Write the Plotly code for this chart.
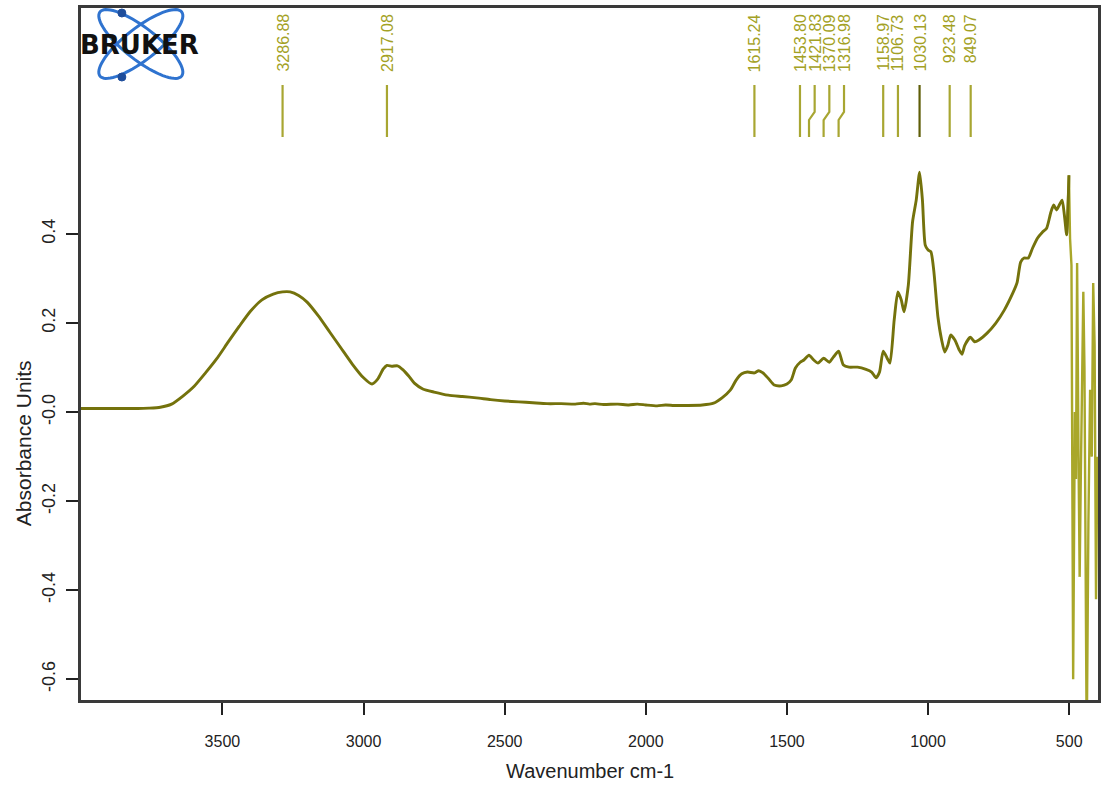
import numpy as np
import plotly.graph_objects as go

# ---------------- data ----------------
wavenumber = [
    4001, 3950, 3900, 3850, 3800, 3760, 3720, 3680, 3640, 3600, 3560, 3520, 3480, 3440,
    3400, 3360, 3320, 3287, 3260, 3230, 3200, 3160, 3120, 3080, 3040, 3000, 2970, 2950,
    2930, 2917, 2900, 2880, 2860, 2840, 2820, 2790, 2750, 2700, 2650, 2600, 2550, 2500,
    2450, 2400, 2350, 2300, 2250, 2220, 2200, 2180, 2150, 2100, 2060, 2030, 2000, 1960,
    1930, 1900, 1850, 1800, 1760, 1730, 1700, 1680, 1660, 1640, 1615, 1600, 1585, 1565,
    1545, 1520, 1500, 1485, 1470, 1453, 1440, 1422, 1405, 1390, 1370, 1350, 1335, 1317,
    1300, 1280, 1250, 1220, 1200, 1184, 1172, 1159, 1145, 1135, 1120, 1107, 1095, 1085,
    1070, 1055, 1042, 1030, 1020, 1010, 1000, 990, 980, 965, 952, 941, 930, 920, 905,
    890, 880, 870, 850, 835, 820, 790, 760, 730, 700, 685, 672, 660, 645, 630, 612, 595,
    580, 565, 555, 545, 535, 525, 517, 509, 501, 497, 492, 486, 480, 476, 472, 467, 463,
    459, 455, 450, 446, 442, 438, 432, 426, 420, 415, 410, 405, 400,
]
absorbance = [
    0.008, 0.008, 0.008, 0.008, 0.008, 0.009, 0.011, 0.018, 0.036, 0.058, 0.088, 0.120, 0.157, 0.193,
    0.227, 0.252, 0.265, 0.270, 0.270, 0.262, 0.247, 0.216, 0.180, 0.144, 0.108, 0.077, 0.063, 0.074,
    0.097, 0.105, 0.103, 0.104, 0.095, 0.081, 0.065, 0.052, 0.045, 0.038, 0.035, 0.032, 0.028, 0.025,
    0.023, 0.021, 0.019, 0.019, 0.018, 0.020, 0.018, 0.019, 0.017, 0.018, 0.016, 0.018, 0.016, 0.014,
    0.016, 0.015, 0.015, 0.016, 0.020, 0.032, 0.050, 0.072, 0.086, 0.090, 0.088, 0.093, 0.088, 0.075,
    0.061, 0.059, 0.063, 0.072, 0.099, 0.112, 0.117, 0.128, 0.117, 0.110, 0.121, 0.112, 0.124, 0.137,
    0.106, 0.101, 0.101, 0.096, 0.090, 0.077, 0.090, 0.137, 0.121, 0.110, 0.207, 0.270, 0.252, 0.225,
    0.285, 0.427, 0.476, 0.539, 0.476, 0.375, 0.364, 0.360, 0.319, 0.213, 0.162, 0.135, 0.150, 0.173, 0.162,
    0.140, 0.130, 0.150, 0.168, 0.158, 0.162, 0.178, 0.200, 0.229, 0.267, 0.290, 0.337, 0.346, 0.346, 0.368, 0.391, 0.404,
    0.413, 0.449, 0.465, 0.454, 0.465, 0.476, 0.442, 0.398, 0.532, 0.390, 0.330, -0.600, 0.000, -0.150, 0.335, -0.100, -0.370,
    -0.150, 0.100, 0.270, 0.100, -0.200, -0.750, -0.250, 0.050, -0.100, 0.290, 0.150, -0.420, -0.100,
]

peak_positions = [3286.88, 2917.08, 1615.24, 1453.80, 1421.83, 1370.09, 1316.98,
                  1158.97, 1106.73, 1030.13, 923.48, 849.07]
peak_labels = ["3286.88", "2917.08", "1615.24", "1453.80", "1421.83", "1370.09", "1316.98",
               "1158.97", "1106.73", "1030.13", "923.48", "849.07"]

y_tick_values = [-0.6, -0.4, -0.2, 0.0, 0.2, 0.4]
y_tick_labels = ["-0.6", "-0.4", "-0.2", "-0.0", "0.2", "0.4"]
x_tick_values = [3500, 3000, 2500, 2000, 1500, 1000, 500]
x_tick_labels = ["3500", "3000", "2500", "2000", "1500", "1000", "500"]

# ---------------- styling ----------------
W, H = 1104, 785
ML, MR, MT, MB = 81, 3, 8, 85
X_RANGE = [4001, 398]
Y_RANGE = [-0.6465, 0.9075]
LINE_COLOR = "#74720c"
NOISE_COLOR = "#a9a72a"
LABEL_COLOR = "#a3a124"
MARK_COLOR = "#a8a632"
MARK_DARK = "#5f5e08"
FRAME = "#3a3a3a"
FONT = "Liberation Sans, Arial, sans-serif"

fig = go.Figure()

wn = np.array(wavenumber)
ab = np.array(absorbance)
main_mask = wn >= 501
tail_mask = wn <= 509

fig.add_trace(go.Scatter(x=wn[tail_mask], y=ab[tail_mask], mode="lines",
                         line=dict(color=NOISE_COLOR, width=2.4),
                         hoverinfo="skip", showlegend=False))
fig.add_trace(go.Scatter(x=wn[main_mask], y=ab[main_mask], mode="lines",
                         line=dict(color=LINE_COLOR, width=2.9, shape="spline", smoothing=0.6),
                         hoverinfo="skip", showlegend=False))

# ---------------- peak markers ----------------
gap = 52.0  # minimum label spacing (cm-1)
label_pos = []
for i, p in enumerate(peak_positions):
    if i == 0:
        label_pos.append(p)
    else:
        label_pos.append(min(p, label_pos[-1] - gap))

y_top, y_b1, y_b2, y_bot = 0.7346, 0.674, 0.656, 0.6178
for p, lp, txt in zip(peak_positions, label_pos, peak_labels):
    color = MARK_DARK if txt == "1030.13" else MARK_COLOR
    fig.add_trace(go.Scatter(x=[lp, lp, p, p], y=[y_top, y_b1, y_b2, y_bot], mode="lines",
                             line=dict(color=color, width=2.2),
                             hoverinfo="skip", showlegend=False))
    fig.add_annotation(x=lp, xref="x", y=(H - MB - 12) / (H - MT - MB), yref="paper",
                       text=txt, textangle=-90, showarrow=False,
                       xanchor="center", yanchor="top",
                       font=dict(family=FONT, size=16, color=LABEL_COLOR))

# ---------------- Bruker logo (decoration, pixel geometry) ----------------
PW, PH = W - ML - MR, H - MT - MB


def px2paper(px, py):
    return (np.asarray(px) - ML) / PW, (H - MB - np.asarray(py)) / PH


t = np.linspace(0, 2 * np.pi, 73)
cx, cy, a, b = 141.0, 44.0, 52.0, 16.0
for ang in (38.0, -38.0):
    th = np.deg2rad(ang)
    ex = cx + a * np.cos(t) * np.cos(th) - b * np.sin(t) * np.sin(th)
    ey = cy + a * np.cos(t) * np.sin(th) + b * np.sin(t) * np.cos(th)
    ux, uy = px2paper(ex, ey)
    path = "M " + " L ".join(f"{u:.5f},{v:.5f}" for u, v in zip(ux, uy)) + " Z"
    fig.add_shape(type="path", path=path, xref="paper", yref="paper",
                  line=dict(color="#2f73cf", width=3), fillcolor="rgba(0,0,0,0)")
for dx, dy in ((122, 13), (122, 77)):
    x0, y0 = px2paper(dx - 4, dy - 4)
    x1, y1 = px2paper(dx + 4, dy + 4)
    fig.add_shape(type="circle", xref="paper", yref="paper", x0=x0, y0=y1, x1=x1, y1=y0,
                  line=dict(color="#1f4e9c", width=1), fillcolor="#1f4e9c")
lx, ly = px2paper(140, 45)
fig.add_annotation(x=float(lx), y=float(ly), xref="paper", yref="paper", text="<b>BRUKER</b>",
                   showarrow=False, xanchor="center", yanchor="middle",
                   font=dict(family="DejaVu Sans, sans-serif", size=26, color="#111111"))

# ---------------- axis titles ----------------
tx, ty = px2paper(23, 443)
fig.add_annotation(x=float(tx), y=float(ty), xref="paper", yref="paper", text="Absorbance Units",
                   textangle=-90, showarrow=False, xanchor="center", yanchor="middle",
                   font=dict(family=FONT, size=21, color="#222222"))
tx, ty = px2paper(592, 771)
fig.add_annotation(x=float(tx), y=float(ty), xref="paper", yref="paper", text="Wavenumber cm-1",
                   showarrow=False, xanchor="center", yanchor="middle",
                   font=dict(family=FONT, size=20, color="#222222"))

fig.update_layout(
    width=W, height=H,
    margin=dict(l=ML, r=MR, t=MT, b=MB, pad=0),
    paper_bgcolor="white", plot_bgcolor="white",
    showlegend=False,
    xaxis=dict(range=X_RANGE, tickvals=x_tick_values, ticktext=x_tick_labels,
               ticks="outside", ticklen=12, tickwidth=2, tickcolor="#222",
               showline=True, mirror=True, linecolor=FRAME, linewidth=2.5,
               showgrid=False, zeroline=False, ticklabelstandoff=13,
               tickfont=dict(family=FONT, size=16, color="#222")),
    yaxis=dict(range=Y_RANGE, tickvals=y_tick_values, ticktext=y_tick_labels,
               ticks="outside", ticklen=12, tickwidth=2, tickcolor="#222", tickangle=-90,
               showline=True, mirror=True, linecolor=FRAME, linewidth=2.5,
               showgrid=False, zeroline=False, ticklabelstandoff=4,
               tickfont=dict(family=FONT, size=18, color="#222")),
)

fig.write_html("out.html")
